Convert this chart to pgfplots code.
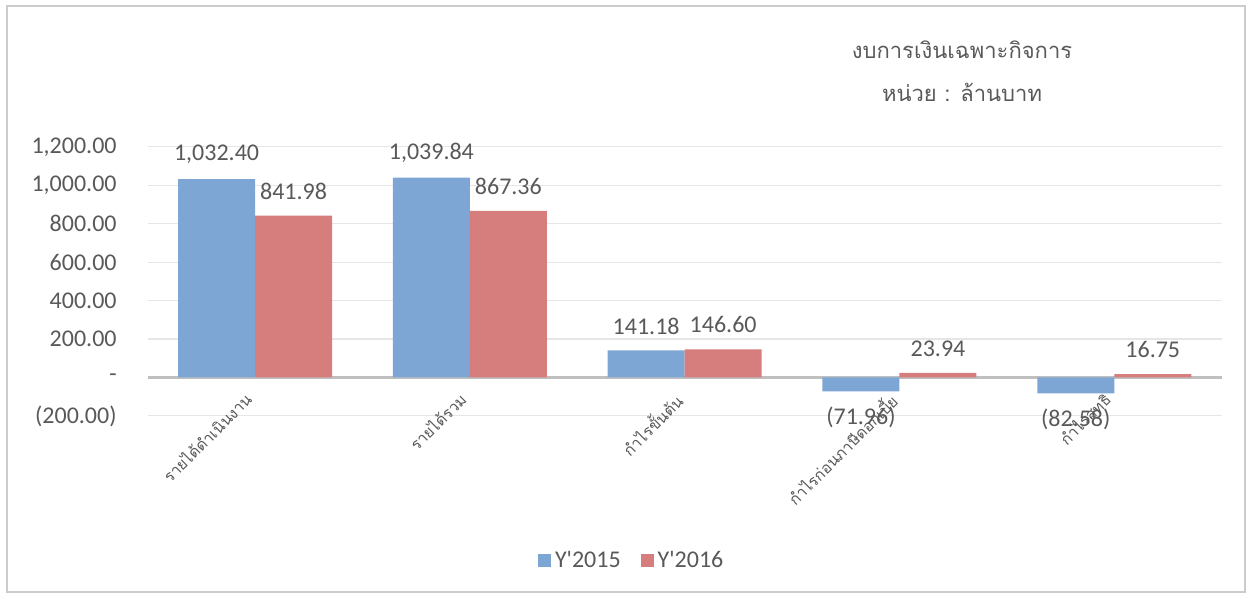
\documentclass[border=0pt]{standalone}
\usepackage{pgfplots}
\usepackage{pgfplotstable}
\pgfplotsset{compat=1.18}
\usepackage{fontspec}
\setmainfont{Carlito}
\newfontfamily\thaifont[Script=Thai]{Loma}
\definecolor{bblue}{RGB}{126,166,212}
\definecolor{bred}{RGB}{214,125,125}
\definecolor{txt}{RGB}{89,89,89}
\definecolor{gridc}{RGB}{230,230,230}
\definecolor{zeroc}{RGB}{191,191,191}
\pgfplotstableread{
x y lab
0 1032.40 {1,032.40}
1 1039.84 {1,039.84}
2 141.18 141.18
}\tabApos
\pgfplotstableread{
x y lab
3 -71.96 (71.96)
4 -82.58 (82.58)
}\tabAneg
\pgfplotstableread{
x y lab
0 841.98 841.98
1 867.36 867.36
2 146.60 146.60
3 23.94 23.94
4 16.75 16.75
}\tabB
\begin{document}
\begin{tikzpicture}[x=1pt,y=1pt]
\useasboundingbox (0,0) rectangle (624,298.5);
\draw[color=gray!40, line width=0.6pt] (3.5,2.5) rectangle (622.5,295.5);
\node[text=txt, font=\thaifont\fontsize{11}{13}\selectfont] at (481,273.5) {งบการเงินเฉพาะกิจการ};
\node[text=txt, font=\thaifont\fontsize{11}{13}\selectfont] at (481,252.5) {หน่วย : ล้านบาท};
\begin{axis}[
  at={(68.75,94.25)}, anchor=south west,
  scale only axis, width=537pt, height=134.5pt,
  xmin=-0.5, xmax=4.5, ymin=-200, ymax=1200,
  axis line style={draw=none},
  major tick length=0pt,
  ymajorgrids, grid style={gridc, line width=0.6pt},
  ytick={-200,0,200,400,600,800,1000,1200},
  yticklabels={(200.00),-,200.00,400.00,600.00,800.00,{1,000.00},{1,200.00}},
  yticklabel style={font=\fontsize{12}{14}\selectfont, text=txt, xshift=-12pt},
  extra y ticks={0}, extra y tick labels={},
  extra y tick style={grid style={zeroc, line width=1.6pt}},
  xtick={0,1,2,3,4},
  xticklabels={รายได้ดำเนินงาน,รายได้รวม,กำไรขั้นต้น,กำไรก่อนภาษีดอกเบี้ย,กำไรสุทธิ},
  xticklabel style={font=\thaifont\fontsize{7.8}{9.5}\selectfont, text=txt, rotate=45, anchor=north east, yshift=16.5pt, xshift=8pt},
  ybar, bar width=38.5pt,
  point meta=explicit symbolic,
  nodes near coords,
  nodes near coords style={font=\fontsize{12}{14}\selectfont, text=txt, inner sep=1pt},
  legend style={at={(axis description cs:0.4516,-0.539)}, anchor=center, draw=none, legend columns=2, font=\fontsize{12}{14}\selectfont, text=txt, /tikz/every even column/.append style={column sep=8pt}},
  legend image code/.code={\fill[#1] (0pt,-3.25pt) rectangle (6.5pt,3.25pt);},
]
\addplot[fill=bblue, draw=none, bar shift=-19.25pt, nodes near coords style={anchor=south, yshift=6.5pt}] table[x=x,y=y,meta=lab] {\tabApos};
\addplot[fill=bred, draw=none, bar shift=19.25pt, nodes near coords style={anchor=south, yshift=7pt}] table[x=x,y=y,meta=lab] {\tabB};
\addplot[fill=bblue, draw=none, bar shift=-19.25pt, forget plot, nodes near coords style={anchor=north, yshift=-6.5pt}] table[x=x,y=y,meta=lab] {\tabAneg};
\legend{Y\textquotesingle 2015,Y\textquotesingle 2016}
\end{axis}
\end{tikzpicture}
\end{document}
